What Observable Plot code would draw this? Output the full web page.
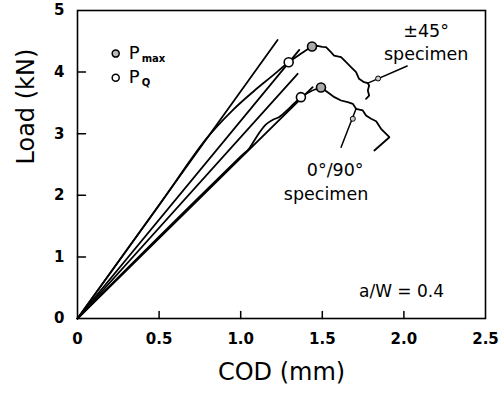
<!DOCTYPE html>
<html>
<head>
<meta charset="utf-8">
<script src="https://cdn.jsdelivr.net/npm/d3@7"></script>
<script src="https://cdn.jsdelivr.net/npm/@observablehq/plot@0.6"></script>
<style>
  html, body { margin: 0; padding: 0; background: #fff; }
  #chart svg { display: block; }
</style>
</head>
<body>
<div id="chart"></div>
<script>
// ---- tick values and labels ----
const xTicks = [0, 0.5, 1.0, 1.5, 2.0, 2.5];
const xTickLabels = ["0", "0.5", "1.0", "1.5", "2.0", "2.5"];
const yTicks = [0, 1, 2, 3, 4, 5];
const yTickLabels = ["0", "1", "2", "3", "4", "5"];

// ---- ±45° specimen (COD mm, Load kN) ----
const upperTangent = [[0, 0], [1.226, 4.52]];
const upperSecant = [[0, 0], [1.359, 4.36]];
const upperRise = [[0, 0], [0.5, 1.84], [0.79, 2.92], [0.95, 3.38], [1.08, 3.69], [1.19, 3.93],
  [1.294, 4.16], [1.37, 4.30], [1.437, 4.416]];
const upperFall = [[1.437, 4.416], [1.47, 4.425], [1.50, 4.41], [1.523, 4.404],
  [1.553, 4.323], [1.572, 4.269], [1.615, 4.242], [1.646, 4.161], [1.676, 4.080], [1.707, 3.998],
  [1.725, 3.891], [1.756, 3.836], [1.779, 3.820], [1.787, 3.782], [1.779, 3.701], [1.787, 3.620],
  [1.768, 3.567]];
const upperPmax = [[1.437, 4.416]];
const upperPQ = [[1.294, 4.16]];
const upperLeader = [[1.779, 3.82], [2.02, 4.10]];
const upperLeaderMark = [[1.842, 3.896]];

// ---- 0°/90° specimen ----
const lowerTangent = [[0, 0], [1.349, 3.972]];
const lowerSecant = [[0, 0], [1.441, 3.755]];
const lowerRise = [[0, 0], [0.5, 1.33], [1.0, 2.63], [1.052, 2.76], [1.10, 2.96], [1.155, 3.15],
  [1.20, 3.23], [1.236, 3.27], [1.30, 3.42], [1.369, 3.593], [1.43, 3.69], [1.492, 3.75]];
const lowerFall = [[1.492, 3.75], [1.533, 3.674], [1.574, 3.593],
  [1.615, 3.539], [1.656, 3.511], [1.687, 3.485], [1.707, 3.404], [1.748, 3.377], [1.768, 3.295],
  [1.799, 3.242], [1.830, 3.203], [1.860, 3.080], [1.891, 2.998], [1.911, 2.943], [1.819, 2.727]];
const lowerPmax = [[1.492, 3.75]];
const lowerPQ = [[1.369, 3.593]];
const lowerLeader = [[1.707, 3.404], [1.615, 2.781]];
const lowerLeaderMark = [[1.687, 3.242]];

// ---- legend and annotations ----
const legendItems = [
  {x: 0.234, y: 4.30, sub: "max", kind: "Pmax"},
  {x: 0.234, y: 3.91, sub: "Q", kind: "PQ"}
];
const annotations = [
  {x: 2.136, y: 4.66, text: "±45°"},
  {x: 2.136, y: 4.29, text: "specimen"},
  {x: 1.579, y: 2.41, text: "0°/90°"},
  {x: 1.523, y: 2.02, text: "specimen"}
];
const ratioNote = [{x: 2.246, y: 0.44, text: "a/W = 0.4"}];
const xTitle = "COD (mm)";
const yTitle = "Load (kN)";

const X = d => d[0], Y = d => d[1];
const lineStyle = {x: X, y: Y, stroke: "black", strokeWidth: 1.8};
const smoothStyle = {...lineStyle, curve: "catmull-rom"};
const tickShape = {draw(context, l) { context.moveTo(0, 0); context.lineTo(0, -l); }};

const chart = Plot.plot({
  width: 502,
  height: 393,
  marginLeft: 77,
  marginRight: 17,
  marginTop: 10,
  marginBottom: 75,
  style: {fontFamily: "'DejaVu Sans', sans-serif", background: "white", color: "black"},
  x: {domain: [0, 2.5]},
  y: {domain: [0, 5]},
  marks: [
    Plot.frame({stroke: "black", strokeWidth: 1.6}),
    Plot.axisX(xTicks, {tickSize: 0, tickPadding: 15, fontSize: 15, fontWeight: "bold",
      tickFormat: d => xTickLabels[xTicks.indexOf(d)], label: null}),
    Plot.axisY(yTicks, {tickSize: 0, tickPadding: 13, fontSize: 15, fontWeight: "bold",
      tickFormat: d => yTickLabels[yTicks.indexOf(d)], label: null}),
    Plot.vector(xTicks.slice(1, -1), {x: d => d, y: 0, length: 7, rotate: 0, anchor: "start",
      shape: tickShape, stroke: "black", strokeWidth: 1.5}),
    Plot.vector(yTicks.slice(1, -1), {x: 0, y: d => d, length: 8, rotate: 90, anchor: "start",
      shape: tickShape, stroke: "black", strokeWidth: 1.5}),
    // axis titles
    Plot.text([xTitle], {frameAnchor: "bottom", dy: 61, text: d => d, fontSize: 24, letterSpacing: 2.5}),
    Plot.text([yTitle], {frameAnchor: "left", dx: -51, rotate: -90, text: d => d, fontSize: 24, letterSpacing: 2}),
    // ±45° specimen
    Plot.line(upperTangent, lineStyle),
    Plot.line(upperSecant, lineStyle),
    Plot.line(upperRise, smoothStyle),
    Plot.line(upperFall, lineStyle),
    Plot.line(upperLeader, {...lineStyle, strokeWidth: 1.5}),
    Plot.dot(upperLeaderMark, {x: X, y: Y, r: 2.5, fill: "#ccc", stroke: "black", strokeWidth: 1}),
    // 0°/90° specimen
    Plot.line(lowerTangent, lineStyle),
    Plot.line(lowerSecant, lineStyle),
    Plot.line(lowerRise, smoothStyle),
    Plot.line(lowerFall, lineStyle),
    Plot.line(lowerLeader, {...lineStyle, strokeWidth: 1.5}),
    Plot.dot(lowerLeaderMark, {x: X, y: Y, r: 2.5, fill: "#ccc", stroke: "black", strokeWidth: 1}),
    // markers
    Plot.dot([...upperPQ, ...lowerPQ], {x: X, y: Y, r: 4.5, fill: "white", stroke: "black", strokeWidth: 1.6}),
    Plot.dot([...upperPmax, ...lowerPmax], {x: X, y: Y, r: 4.5, fill: "#aaa", stroke: "black", strokeWidth: 1.6}),
    // legend
    Plot.dot(legendItems, {x: "x", y: "y", r: 3.5, stroke: "black", strokeWidth: 1.5,
      fill: d => d.kind === "Pmax" ? "#bbb" : "white"}),
    Plot.text(legendItems, {x: "x", y: "y", text: () => "P", dx: 13, textAnchor: "start", fontSize: 18}),
    Plot.text(legendItems, {x: "x", y: "y", text: "sub", dx: 26, dy: 5, textAnchor: "start", fontSize: 10, fontWeight: "bold"}),
    // annotations
    Plot.text(annotations, {x: "x", y: "y", text: "text", fontSize: 17.5}),
    Plot.text(ratioNote, {x: "x", y: "y", text: "text", textAnchor: "end", fontSize: 17, letterSpacing: 1.5})
  ]
});

document.getElementById("chart").appendChild(chart);
</script>
</body>
</html>
